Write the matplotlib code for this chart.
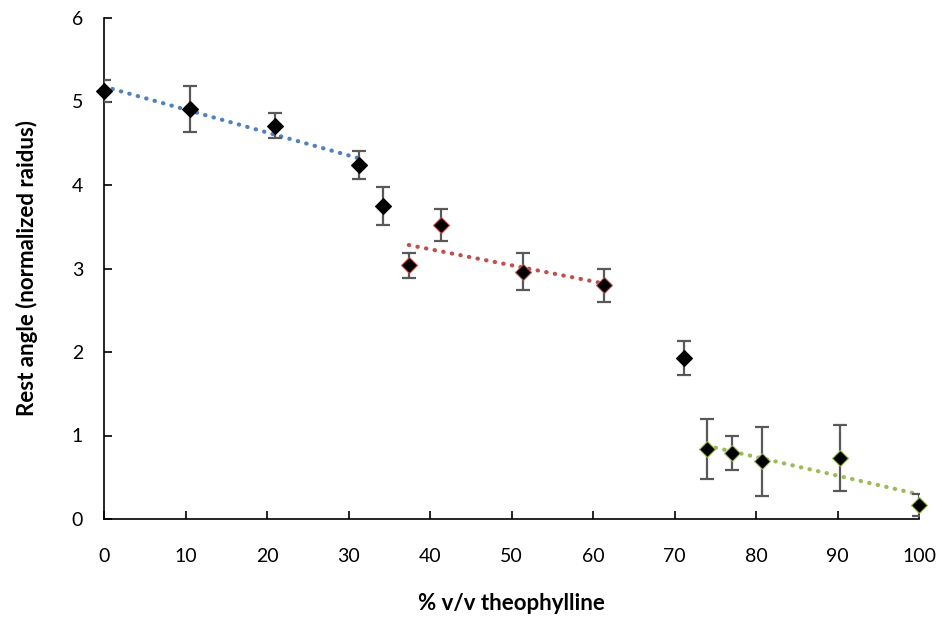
import numpy as np
import matplotlib.pyplot as plt

plt.rcParams['font.family'] = ['Lato', 'DejaVu Sans']

# dati
theo = [0, 10.5, 21.0, 31.3, 34.2, 37.4, 41.3, 51.4, 61.3, 71.2, 74.0, 77.1, 80.7, 90.3, 100]
angolo = [5.13, 4.91, 4.71, 4.24, 3.75, 3.04, 3.52, 2.96, 2.80, 1.93, 0.84, 0.79, 0.69, 0.73, 0.17]
errore = [0.13, 0.27, 0.15, 0.17, 0.23, 0.15, 0.19, 0.22, 0.20, 0.20, 0.36, 0.20, 0.41, 0.40, 0.13]

# gruppi per le linee di tendenza (indici dei punti)
gruppo_blu = [0, 1, 2, 3]
gruppo_rosso = [5, 6, 7, 8]
gruppo_verde = [10, 11, 12, 13, 14]

x = np.array(theo)
y = np.array(angolo)

fig = plt.figure(figsize=(9.42, 6.25), dpi=100)
ax = fig.add_axes([104 / 942, 1 - 519 / 625, 815 / 942, 501 / 625])

# linee di tendenza (regressione lineare)
for idx, col in [(gruppo_blu, '#4F81BD'), (gruppo_rosso, '#C0504D'), (gruppo_verde, '#9BBB59')]:
    xs = x[idx]
    m, q = np.polyfit(xs, y[idx], 1)
    xx = np.array([xs.min(), xs.max()])
    ax.plot(xx, m * xx + q, color=col, lw=3, linestyle=(0, (0.1, 2.0)),
            dash_capstyle='round', zorder=2)

ax.errorbar(x, y, yerr=errore, fmt='none', ecolor='#595959', elinewidth=1.6,
            capsize=5, capthick=1.6, zorder=3)

# colore del bordo dei marker
bordi = ['black'] * len(theo)
for i in gruppo_rosso:
    bordi[i] = '#C0504D'
for i in gruppo_verde:
    bordi[i] = '#9BBB59'
for xi, yi, bc in zip(x, y, bordi):
    ax.plot(xi, yi, marker='D', ms=8.5, mfc='black', mec=bc, mew=0.8,
            linestyle='none', zorder=4, clip_on=False)

ax.set_xlim(0, 100)
ax.set_ylim(0, 6)
ax.set_xticks(range(0, 101, 10))
ax.set_yticks(range(0, 7))
ax.tick_params(direction='in', length=6, width=1.2, labelsize=14)
ax.tick_params(axis='x', pad=21)
ax.tick_params(axis='y', pad=15)
for s in ['top', 'right']:
    ax.spines[s].set_visible(False)
for s in ['left', 'bottom']:
    ax.spines[s].set_linewidth(1.2)

ax.set_xlabel('% v/v theophylline', fontsize=16, fontweight='bold', labelpad=20)
ax.set_ylabel('Rest angle (normalized raidus)', fontsize=16, fontweight='bold', labelpad=24)

fig.savefig('out.png', dpi=100)
